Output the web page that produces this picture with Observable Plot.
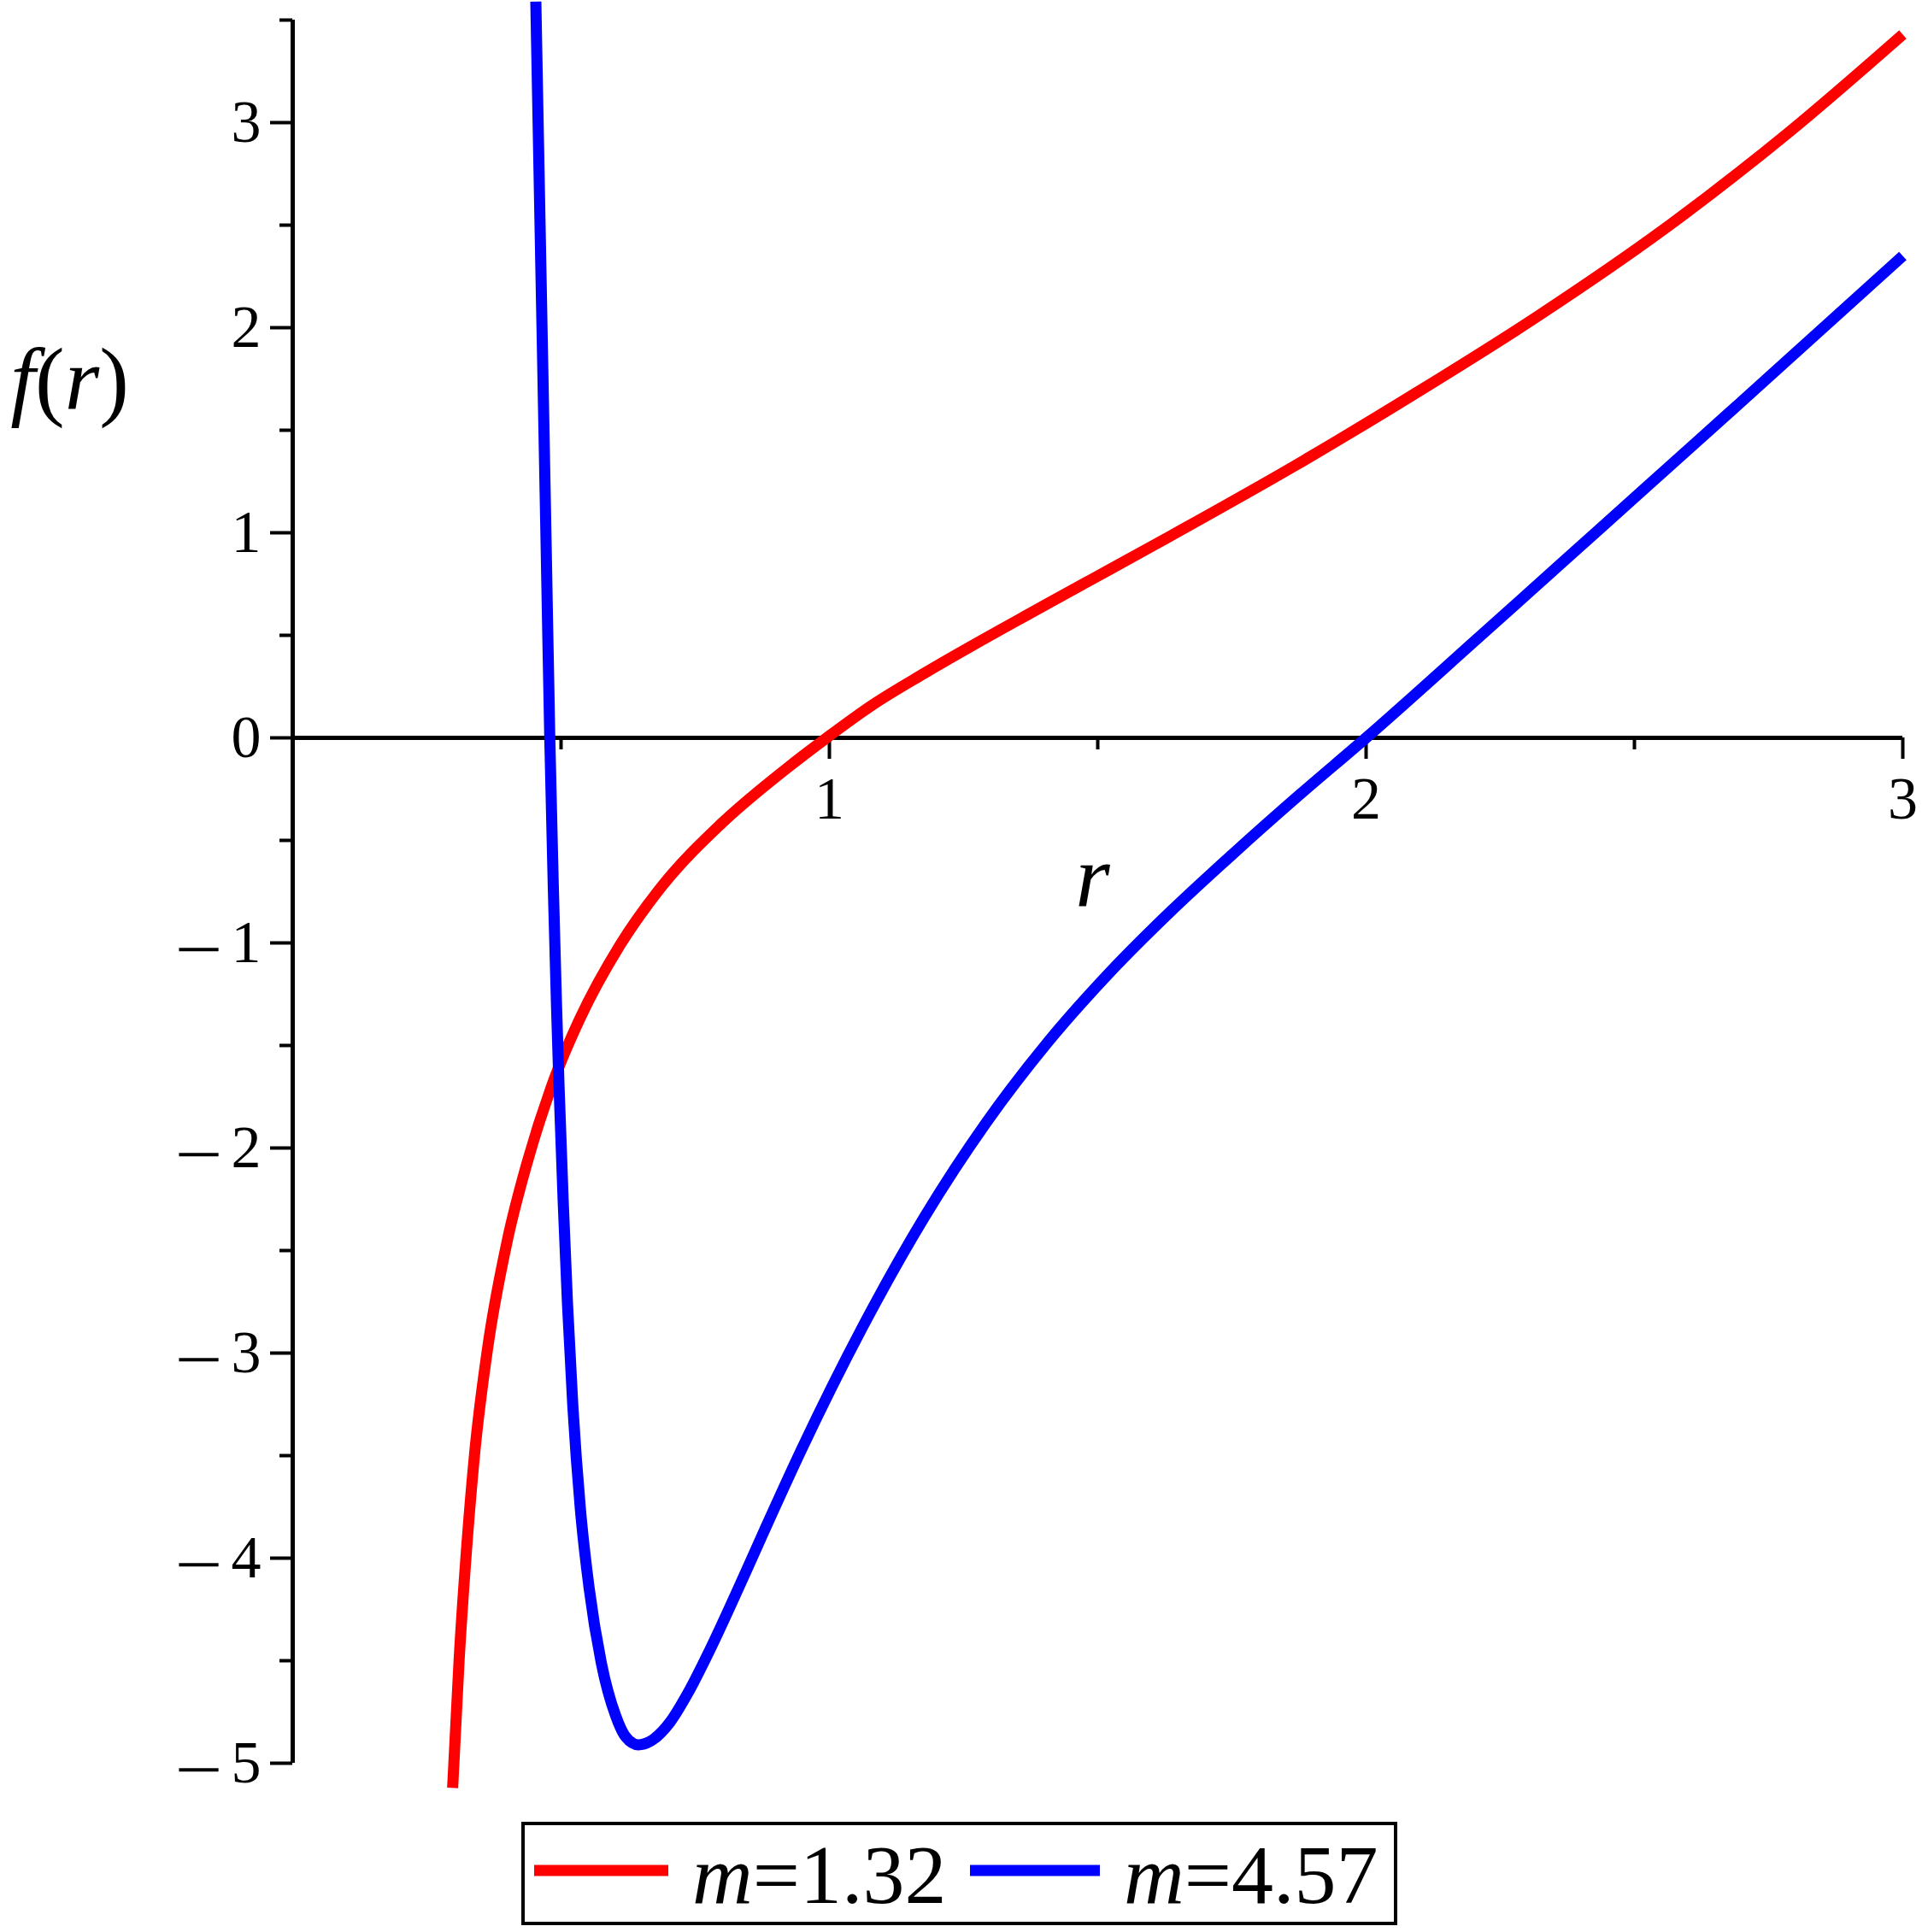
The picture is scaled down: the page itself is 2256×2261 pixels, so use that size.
<!DOCTYPE html>
<html>
<head>
<meta charset="utf-8">
<script src="https://cdn.jsdelivr.net/npm/d3@7"></script>
<script src="https://cdn.jsdelivr.net/npm/@observablehq/plot@0.6"></script>
<style>
  html, body { margin: 0; padding: 0; background: #fff; overflow: hidden; }
  #chart { width: 2256px; height: 2261px; }
  #chart svg { display: block; }
</style>
</head>
<body>
<div id="chart"></div>
<script>
// ---------- data ----------
const seriesM = ["1.32", "4.57"];
const seriesColor = ["#ff0000", "#0000ff"];

// m = 1.32 (red)
const rRed = [0.298, 0.310, 0.323, 0.339, 0.363, 0.400, 0.437, 0.485, 0.535, 0.610, 0.689, 0.798, 0.920, 0.995,
              1.08, 1.177, 1.407, 1.636, 1.866, 2.095, 2.325, 2.555, 2.784, 3.0];
const fRed = [-5.12, -4.50, -3.99, -3.49, -2.98, -2.45, -2.07, -1.68, -1.37, -1.01, -0.72, -0.42, -0.15, 0.0,
              0.16, 0.315, 0.655, 0.985, 1.325, 1.685, 2.065, 2.48, 2.945, 3.43];

// m = 4.57 (blue)
const rBlue = [0.453, 0.459, 0.466, 0.4725, 0.479, 0.4855, 0.4915, 0.496, 0.504, 0.512, 0.522, 0.536, 0.552,
               0.575, 0.602, 0.620, 0.644, 0.670, 0.703, 0.737, 0.772, 0.841, 0.879, 0.947, 1.062, 1.177,
               1.292, 1.407, 1.522, 1.6365, 1.751, 1.875, 2.0, 2.21, 2.44, 2.67, 3.0];
const fBlue = [3.59, 2.76, 1.80, 0.90, 0.0, -0.72, -1.30, -1.68, -2.26, -2.76, -3.26, -3.76, -4.14,
               -4.51, -4.77, -4.87, -4.91, -4.887, -4.80, -4.655, -4.476, -4.086, -3.864, -3.476, -2.872, -2.337,
               -1.877, -1.484, -1.145, -0.845, -0.568, -0.28, 0.0, 0.49, 1.03, 1.57, 2.35];

// ticks
const xTicksMajor = [1, 2, 3];
const xTickLabels = ["1", "2", "3"];
const xTicksMinor = [0.5, 1.5, 2.5];
const yTicksMajor = [-5, -4, -3, -2, -1, 0, 1, 2, 3];
const yTickLabels = ["\u22125", "\u22124", "\u22123", "\u22122", "\u22121", "0", "1", "2", "3"];
const yTicksMinor = [-4.5, -3.5, -2.5, -1.5, -0.5, 0.5, 1.5, 2.5, 3.5];
const xDomain = [0, 3];
const yDomain = [-5, 3.5];
const xLabel = "r";
const yLabel = "f(r)";

// ---------- build ----------
const data = [
  ...rRed.map((r, i) => ({r, f: fRed[i], m: seriesM[0]})),
  ...rBlue.map((r, i) => ({r, f: fBlue[i], m: seriesM[1]}))
];

const W = 2256, H = 2120, mt = 23, mb = 57, ml = 342, mr = 30;
const zeroDy = -((0 - yDomain[0]) / (yDomain[1] - yDomain[0])) * (H - mt - mb);
const font = "Liberation Serif, Times New Roman, Times, serif";

const plot = Plot.plot({
  width: W, height: H,
  marginTop: mt, marginBottom: mb, marginLeft: ml, marginRight: mr,
  style: {fontFamily: font, background: "#fff", overflow: "visible", color: "#000"},
  x: {domain: xDomain, label: null},
  y: {domain: yDomain, label: null},
  color: {domain: seriesM, range: seriesColor},
  marks: [
    Plot.axisY(yTicksMinor, {anchor: "left", tickSize: 15, strokeWidth: 4, fill: "none", label: null}),
    Plot.axisY(yTicksMajor, {anchor: "left", tickSize: 26, tickPadding: 11, strokeWidth: 4, fontSize: 70,
      fontFamily: font, tickFormat: d => yTickLabels[yTicksMajor.indexOf(d)], label: null}),
    Plot.axisX(xTicksMinor, {anchor: "bottom", tickSize: 14, strokeWidth: 4, fill: "none", label: null, dy: zeroDy}),
    Plot.axisX(xTicksMajor, {anchor: "bottom", tickSize: 25, tickPadding: 20, strokeWidth: 4, fontSize: 70,
      fontFamily: font, tickFormat: d => xTickLabels[xTicksMajor.indexOf(d)], label: null, dy: zeroDy}),
    Plot.ruleX([0], {y1: yDomain[0], y2: yDomain[1], strokeWidth: 5}),
    Plot.ruleY([0], {x1: xDomain[0], x2: xDomain[1], strokeWidth: 5}),
    Plot.line(data, {x: "r", y: "f", z: "m", stroke: "m", strokeWidth: 13, curve: "monotone-x",
      strokeLinecap: "butt", strokeLinejoin: "round"}),
    Plot.text([yLabel], {frameAnchor: "top-left", dx: -261, dy: 455, lineAnchor: "bottom",
      textAnchor: "middle", fontSize: 104, fontStyle: "italic", fontFamily: font}),
    Plot.text([xLabel], {frameAnchor: "top", dx: -6, dy: 1037, lineAnchor: "bottom",
      textAnchor: "middle", fontSize: 104, fontStyle: "italic", fontFamily: font})
  ]
});
document.getElementById("chart").appendChild(plot);

d3.select(plot).selectAll("text").each(function () {
  const s = this.textContent;
  const t = d3.select(this);
  if (s.startsWith("\u2212") && s.length > 1) {
    // long thin minus sign with a gap in the y tick labels (as in the original)
    t.text(null);
    t.append("tspan").attr("font-size", 80).attr("dy", 12)
      .attr("textLength", 56).attr("lengthAdjust", "spacingAndGlyphs").text("\u2212");
    t.append("tspan").attr("dx", 10).attr("dy", -12).text(s.slice(1));
  } else if (s === yLabel) {
    // italic f and r, upright parentheses
    t.text(null);
    for (const ch of s) {
      t.append("tspan").attr("font-style", /[a-z]/i.test(ch) ? "italic" : "normal").text(ch);
    }
  }
});

// ---------- legend (below the plot) ----------
const legend = d3.create("svg")
  .attr("width", W).attr("height", 2261 - H)
  .style("display", "block")
  .style("font-family", font);
legend.append("rect")
  .attr("x", 612).attr("y", 14).attr("width", 1021).attr("height", 117)
  .attr("fill", "none").attr("stroke", "#000").attr("stroke-width", 4);
const legendPos = [{x0: 625, x1: 782, tx: 810}, {x0: 1135, x1: 1287, tx: 1315}];
seriesM.forEach((m, i) => {
  const p = legendPos[i];
  legend.append("line")
    .attr("x1", p.x0).attr("x2", p.x1).attr("y1", 69).attr("y2", 69)
    .attr("stroke", seriesColor[i]).attr("stroke-width", 13);
  const t = legend.append("text").attr("x", p.tx).attr("y", 107).attr("font-size", 98).attr("fill", "#000");
  t.append("tspan").attr("font-style", "italic").text("m");
  t.append("tspan").text("=" + m);
});
document.getElementById("chart").appendChild(legend.node());
</script>
</body>
</html>
